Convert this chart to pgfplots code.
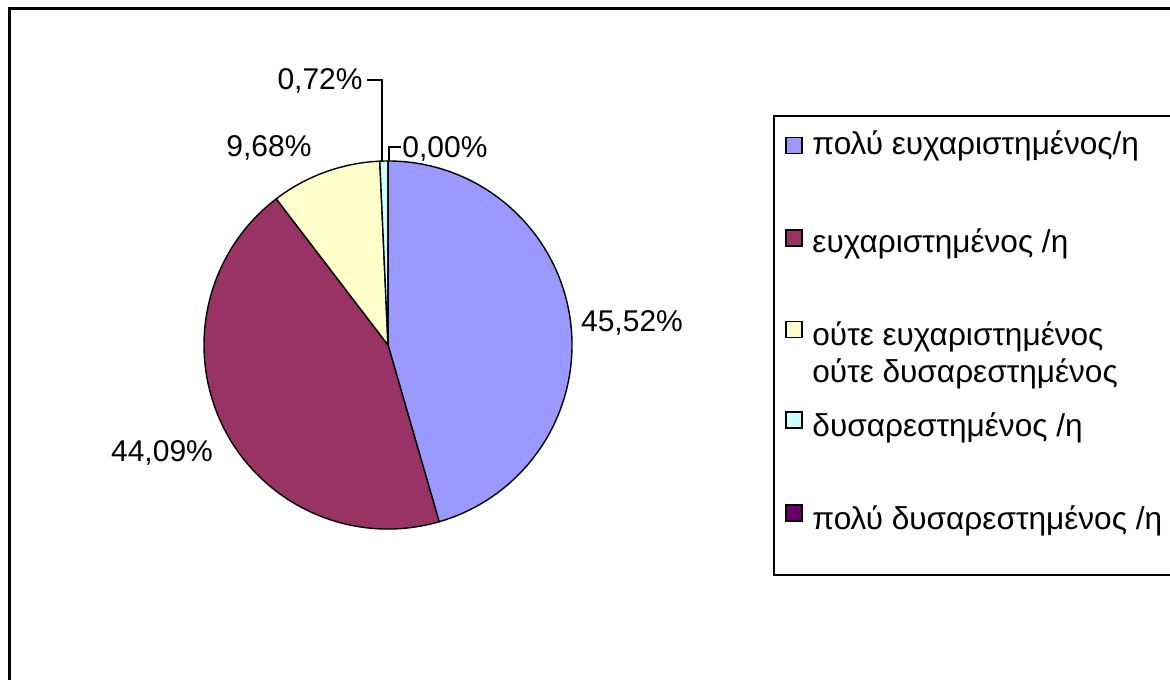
\documentclass[border=0pt]{standalone}
\usepackage{fontspec}
\setmainfont{Liberation Sans}
\usepackage{pgfplots}
\pgfplotsset{compat=1.18}
\definecolor{c1}{HTML}{9999FF}
\definecolor{c2}{HTML}{993366}
\definecolor{c3}{HTML}{FFFFCC}
\definecolor{c4}{HTML}{CCFFFF}
\definecolor{c5}{HTML}{660066}
% #1 = cumulative start (percent), #2 = value (percent), #3 = colour
\newcommand{\pieslice}[3]{%
  \filldraw[fill=#3, draw=black, line width=0.7pt, line join=round]
    (axis cs:388,334) -- ++({90-3.6*(#1)}:92pt)
    arc[start angle={90-3.6*(#1)}, end angle={90-3.6*((#1)+(#2))}, radius=92pt] -- cycle;}
\newcommand{\legmark}[2]{%
  \filldraw[fill=#1, draw=black, line width=0.75pt]
    (axis cs:786,#2-8) rectangle (axis cs:802,#2+8);}
\begin{document}
\begin{tikzpicture}[font=\fontsize{15}{18}\selectfont]
\useasboundingbox (0,0) rectangle (585pt,339.5pt);
\begin{axis}[x=0.5pt, y=0.5pt, xmin=0, xmax=1170, ymin=0, ymax=679,
  hide axis, scale only axis, clip=false, anchor=origin, at={(0,0)}]
% outer frame
\draw[line width=1.5pt] (axis cs:9,-20) -- (axis cs:9,670) -- (axis cs:1200,670);
% pie slices: values 45.52, 44.09, 9.68, 0.72, 0.00
\pieslice{0}{45.52}{c1}
\pieslice{45.52}{44.09}{c2}
\pieslice{89.61}{9.68}{c3}
\pieslice{99.29}{0.72}{c4}
\pieslice{100.01}{0.00}{c5}
% data labels
\node[anchor=base, inner sep=0] at (axis cs:632,347) {45,52\%};
\node[anchor=base, inner sep=0] at (axis cs:162,217) {44,09\%};
\node[anchor=base, inner sep=0] at (axis cs:269,522) {9,68\%};
\node[anchor=base east, inner sep=0] at (axis cs:363,589) {0,72\%};
\node[anchor=base west, inner sep=0] at (axis cs:402,521) {0,00\%};
\draw[line width=0.8pt] (axis cs:367,599) -- (axis cs:382,599) -- (axis cs:382,518);
\draw[line width=0.8pt] (axis cs:389,518) -- (axis cs:389,532) -- (axis cs:401,532);
% legend
\draw[line width=1.2pt] (axis cs:1200,563) -- (axis cs:774,563) -- (axis cs:774,104) -- (axis cs:1200,104);
\legmark{c1}{533.5}
\legmark{c2}{441}
\legmark{c3}{349.5}
\legmark{c4}{259}
\legmark{c5}{166}
\begin{scope}[font=\fontsize{15.8}{19}\selectfont]
\node[anchor=base west, inner sep=0] at (axis cs:812,524) {πολύ ευχαριστημένος/η};
\node[anchor=base west, inner sep=0] at (axis cs:812,426) {ευχαριστημένος /η};
\node[anchor=base west, inner sep=0] at (axis cs:812,333) {ούτε ευχαριστημένος};
\node[anchor=base west, inner sep=0] at (axis cs:812,296) {ούτε δυσαρεστημένος};
\node[anchor=base west, inner sep=0] at (axis cs:812,242) {δυσαρεστημένος /η};
\node[anchor=base west, inner sep=0] at (axis cs:812,149) {πολύ δυσαρεστημένος /η};
\end{scope}
\end{axis}
\end{tikzpicture}
\end{document}
